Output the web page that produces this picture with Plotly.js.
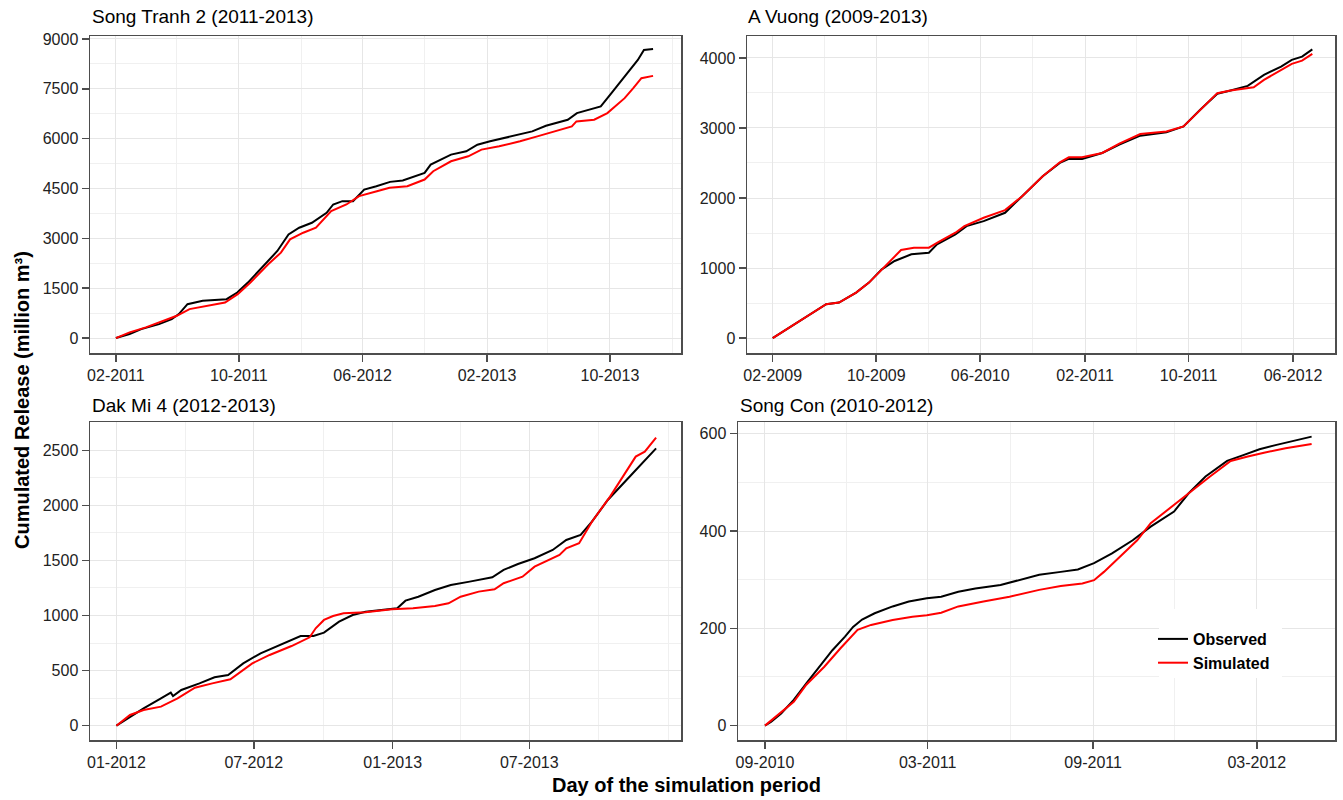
<!DOCTYPE html>
<html>
<head>
<meta charset="utf-8">
<script src="https://cdn.plot.ly/plotly-3.0.1.min.js"></script>
<style>html,body{margin:0;padding:0;background:#fff;}#chart{width:1343px;height:800px;}</style>
</head>
<body>
<div id="chart"></div>
<script>
// ---------- Panel titles ----------
const panelTitles = ["Song Tranh 2 (2011-2013)", "A Vuong (2009-2013)", "Dak Mi 4 (2012-2013)", "Song Con (2010-2012)"];
const seriesNames = ["Observed", "Simulated"];

// ---------- Tick positions (labelled) ----------
const stTicks = ["2011-02-01","2011-10-01","2012-06-01","2013-02-01","2013-10-01"];
const avTicks = ["2009-02-01","2009-10-01","2010-06-01","2011-02-01","2011-10-01","2012-06-01"];
const dmTicks = ["2012-01-01","2012-07-01","2013-01-01","2013-07-01"];
const scTicks = ["2010-09-01","2011-03-01","2011-09-01","2012-03-01"];

// ---------- Song Tranh 2 ----------
const stObsDates = ["2011-02-01","2011-02-28","2011-03-23","2011-04-27","2011-05-22","2011-06-05","2011-06-22","2011-07-22","2011-09-07","2011-09-28","2011-10-19","2011-11-19","2011-12-16","2012-01-07","2012-01-28","2012-02-22","2012-03-22","2012-04-04","2012-04-22","2012-05-13","2012-06-04","2012-06-28","2012-07-25","2012-08-19","2012-10-01","2012-10-13","2012-11-22","2012-12-22","2013-01-13","2013-02-07","2013-03-19","2013-05-01","2013-05-28","2013-07-10","2013-07-28","2013-09-04","2013-09-13","2013-10-04","2013-10-28","2013-11-25","2013-12-07","2013-12-25"];
const stObs = [0,120,270,420,570,720,1020,1120,1170,1370,1670,2170,2620,3120,3320,3470,3770,4020,4120,4120,4470,4570,4700,4740,4970,5220,5520,5620,5820,5920,6070,6220,6390,6570,6770,6920,6970,7370,7820,8370,8670,8700];
const stSimDates = ["2011-02-01","2011-02-28","2011-04-01","2011-05-05","2011-06-01","2011-06-26","2011-07-30","2011-09-04","2011-09-29","2011-10-24","2011-11-28","2011-12-23","2012-01-10","2012-02-05","2012-03-01","2012-03-31","2012-04-30","2012-05-25","2012-06-29","2012-07-24","2012-08-28","2012-10-01","2012-10-18","2012-11-22","2012-12-26","2013-01-21","2013-02-25","2013-04-07","2013-05-11","2013-06-23","2013-07-18","2013-07-27","2013-08-31","2013-09-26","2013-10-30","2013-11-16","2013-12-02","2013-12-25"];
const stSim = [0,170,320,520,670,870,970,1070,1320,1670,2220,2570,2970,3170,3320,3820,4020,4270,4420,4520,4570,4770,5020,5320,5470,5670,5770,5920,6070,6270,6370,6520,6570,6770,7220,7520,7820,7890];

// ---------- A Vuong ----------
const avObsDates = ["2009-02-01","2009-02-28","2009-03-28","2009-05-07","2009-06-06","2009-07-06","2009-08-15","2009-09-14","2009-10-14","2009-11-13","2009-12-22","2010-02-01","2010-02-20","2010-04-04","2010-04-30","2010-06-09","2010-07-29","2010-09-07","2010-10-25","2010-12-04","2010-12-25","2011-01-25","2011-03-13","2011-04-22","2011-06-10","2011-08-10","2011-09-19","2011-10-28","2011-12-07","2012-01-07","2012-02-16","2012-03-25","2012-05-04","2012-05-29","2012-06-22","2012-07-16"];
const avObs = [0,104,223,365,484,508,650,792,982,1101,1196,1219,1338,1480,1599,1670,1789,2026,2311,2501,2558,2558,2643,2762,2890,2937,3023,3260,3488,3535,3601,3758,3877,3972,4019,4123];
const avSimDates = ["2009-02-01","2009-02-28","2009-03-28","2009-05-07","2009-06-06","2009-07-06","2009-08-15","2009-09-14","2009-10-14","2009-11-28","2009-12-28","2010-02-01","2010-02-25","2010-04-04","2010-04-25","2010-06-09","2010-07-29","2010-09-07","2010-10-25","2010-12-04","2010-12-25","2011-01-25","2011-03-13","2011-04-22","2011-06-10","2011-08-10","2011-09-19","2011-10-28","2011-12-07","2012-01-07","2012-03-01","2012-03-25","2012-05-04","2012-05-29","2012-06-22","2012-07-16"];
const avSim = [0,104,223,365,484,508,650,792,982,1257,1290,1290,1376,1504,1599,1718,1827,2026,2311,2510,2581,2581,2643,2776,2913,2951,3023,3260,3497,3535,3582,3687,3820,3915,3962,4057];

// ---------- Dak Mi 4 ----------
const dmObsDates = ["2012-01-01","2012-01-19","2012-02-06","2012-02-29","2012-03-13","2012-03-16","2012-03-27","2012-04-20","2012-05-10","2012-05-28","2012-06-17","2012-07-10","2012-08-09","2012-09-01","2012-09-18","2012-10-02","2012-10-22","2012-11-09","2012-11-26","2012-12-31","2013-01-07","2013-01-18","2013-02-04","2013-02-26","2013-03-19","2013-04-13","2013-05-13","2013-05-28","2013-06-16","2013-07-08","2013-08-01","2013-08-19","2013-09-07","2013-09-22","2013-10-13","2013-11-13","2013-12-16"];
const dmObs = [0,82,157,248,300,269,324,384,439,460,566,657,748,814,814,845,944,1005,1035,1066,1066,1135,1171,1232,1277,1308,1347,1414,1468,1520,1595,1686,1731,1852,2049,2276,2518];
const dmSimDates = ["2012-01-01","2012-01-19","2012-02-06","2012-02-29","2012-03-22","2012-04-14","2012-05-07","2012-05-31","2012-06-29","2012-07-22","2012-08-20","2012-09-13","2012-09-21","2012-10-02","2012-10-14","2012-10-28","2012-11-26","2012-12-31","2013-01-28","2013-02-26","2013-03-16","2013-04-01","2013-04-25","2013-05-16","2013-05-28","2013-06-22","2013-07-08","2013-08-10","2013-08-19","2013-09-05","2013-09-22","2013-10-16","2013-11-19","2013-12-01","2013-12-16"];
const dmSim = [0,97,142,173,248,345,384,421,566,642,723,802,884,960,996,1020,1029,1056,1066,1087,1111,1171,1217,1238,1293,1353,1444,1550,1610,1656,1852,2080,2443,2488,2615];

// ---------- Song Con ----------
const scObsDates = ["2010-09-01","2010-09-08","2010-09-19","2010-10-03","2010-10-17","2010-11-01","2010-11-15","2010-11-29","2010-12-08","2010-12-18","2011-01-01","2011-01-21","2011-02-08","2011-02-28","2011-03-16","2011-04-04","2011-04-23","2011-05-21","2011-06-10","2011-07-03","2011-07-27","2011-08-15","2011-09-02","2011-09-22","2011-10-15","2011-11-04","2011-11-30","2011-12-16","2012-01-04","2012-01-28","2012-02-15","2012-03-04","2012-03-23","2012-04-12","2012-05-01"];
const scObs = [0,8,25,53,87,121,155,183,203,218,231,245,255,262,265,275,282,289,299,310,316,321,334,354,381,409,440,477,512,544,556,568,577,586,594];
const scSimDates = ["2010-09-01","2010-09-19","2010-10-03","2010-10-17","2010-11-06","2010-11-24","2010-12-13","2010-12-28","2011-01-21","2011-02-12","2011-02-28","2011-03-16","2011-04-04","2011-05-02","2011-05-31","2011-07-03","2011-07-27","2011-08-20","2011-09-02","2011-09-13","2011-10-01","2011-10-20","2011-11-04","2011-11-30","2011-12-16","2012-01-09","2012-02-01","2012-02-20","2012-03-09","2012-04-02","2012-05-01"];
const scSim = [0,27,49,84,121,159,197,207,217,224,227,232,245,255,265,279,287,292,299,316,347,381,416,453,477,512,544,553,561,570,579];

const obsColor = "#000000", simColor = "#ff0000";
const FONT = "Liberation Sans, Arial, sans-serif";

const panels = [
  {xo:stObsDates, yo:stObs, xs:stSimDates, ys:stSim},
  {xo:avObsDates, yo:avObs, xs:avSimDates, ys:avSim},
  {xo:dmObsDates, yo:dmObs, xs:dmSimDates, ys:dmSim},
  {xo:scObsDates, yo:scObs, xs:scSimDates, ys:scSim}
];

const traces = [];
panels.forEach((p, i) => {
  const ax = i === 0 ? "" : String(i + 1);
  traces.push({type:"scatter", mode:"lines", x:p.xo, y:p.yo, name:seriesNames[0],
    showlegend:i === 0, line:{color:obsColor, width:2}, xaxis:"x"+ax, yaxis:"y"+ax});
  traces.push({type:"scatter", mode:"lines", x:p.xs, y:p.ys, name:seriesNames[1],
    showlegend:i === 0, line:{color:simColor, width:2}, xaxis:"x"+ax, yaxis:"y"+ax});
});

const W = 1343, H = 800;
const px = v => v / W, py = v => 1 - v / H;

function xax(domain, range, tickvals, minorTick0, minorDtick, anchor) {
  return {domain:domain, anchor:anchor, type:"date", range:range, tickmode:"array", tickvals:tickvals, tickformat:"%m-%Y",
    showgrid:true, gridcolor:"#e6e6e6", gridwidth:1, zeroline:false,
    showline:true, mirror:true, linecolor:"#4d4d4d", linewidth:1.5,
    ticks:"outside", ticklen:7, tickwidth:1.5, tickcolor:"#4d4d4d",
    tickfont:{family:FONT, size:16, color:"#222"},
    minor:{tickmode:"linear", tick0:minorTick0, dtick:minorDtick, showgrid:true, gridcolor:"#f0f0f0", gridwidth:1, ticks:""}};
}
function yax(domain, range, dtick, minorDtick, anchor) {
  return {domain:domain, anchor:anchor, range:range, tick0:0, dtick:dtick,
    showgrid:true, gridcolor:"#e6e6e6", gridwidth:1, zeroline:false,
    showline:true, mirror:true, linecolor:"#4d4d4d", linewidth:1.5,
    ticks:"outside", ticklen:7, tickwidth:1.5, tickcolor:"#4d4d4d",
    tickfont:{family:FONT, size:16, color:"#222"},
    minor:{tick0:0, dtick:minorDtick, showgrid:true, gridcolor:"#f0f0f0", gridwidth:1, ticks:""}};
}

const dTopY = [py(353), py(36)];
const dBotY = [py(740), py(422)];
const dLeftX = [px(90), px(681)];

const layout = {
  width:W, height:H,
  margin:{l:0, r:0, t:0, b:0},
  paper_bgcolor:"#ffffff", plot_bgcolor:"#ffffff",
  font:{family:FONT, color:"#000"},
  showlegend:true,
  legend:{x:px(1153), y:py(622), xanchor:"left", yanchor:"top", bgcolor:"rgba(0,0,0,0)",
    font:{family:FONT, size:16, color:"#000", weight:"bold"}, borderwidth:0, tracegroupgap:0, itemwidth:30},
  shapes:[
    {type:"rect", xref:"paper", yref:"paper", x0:px(1159), x1:px(1282), y0:py(678), y1:py(609),
     fillcolor:"#ffffff", line:{width:0}, layer:"above"}
  ],
  xaxis: xax(dLeftX, ["2010-12-12","2014-02-18"], stTicks, "2011-02-01", "M4", "y"),
  yaxis: yax(dTopY, [-450, 9090], 1500, 750, "x"),
  xaxis2: xax([px(747), px(1335)], ["2008-12-03","2012-09-07"], avTicks, "2009-02-01", "M4", "y2"),
  yaxis2: yax(dTopY, [-213, 4313], 1000, 500, "x2"),
  xaxis3: xax(dLeftX, ["2011-11-27","2014-01-18"], dmTicks, "2012-01-01", "M3", "y3"),
  yaxis3: yax(dBotY, [-130, 2757], 500, 250, "x3"),
  xaxis4: xax([px(738), px(1335)], ["2010-08-02","2012-05-27"], scTicks, "2010-09-01", "M3", "y4"),
  yaxis4: yax(dBotY, [-29.5, 624], 200, 100, "x4"),
  annotations:[
    {text:panelTitles[0], xref:"paper", yref:"paper", x:px(90), y:py(17), xanchor:"left", yanchor:"middle", showarrow:false, font:{family:FONT, size:19, color:"#000"}},
    {text:panelTitles[1], xref:"paper", yref:"paper", x:px(746), y:py(17), xanchor:"left", yanchor:"middle", showarrow:false, font:{family:FONT, size:19, color:"#000"}},
    {text:panelTitles[2], xref:"paper", yref:"paper", x:px(90), y:py(405), xanchor:"left", yanchor:"middle", showarrow:false, font:{family:FONT, size:19, color:"#000"}},
    {text:panelTitles[3], xref:"paper", yref:"paper", x:px(738), y:py(405), xanchor:"left", yanchor:"middle", showarrow:false, font:{family:FONT, size:19, color:"#000"}},
    {text:"Cumulated Release (million m³)", xref:"paper", yref:"paper", x:px(22), y:py(400), xanchor:"center", yanchor:"middle", textangle:-90, showarrow:false, font:{family:FONT, size:20, color:"#000", weight:"bold"}},
    {text:"Day of the simulation period", xref:"paper", yref:"paper", x:px(686), y:py(785), xanchor:"center", yanchor:"middle", showarrow:false, font:{family:FONT, size:20, color:"#000", weight:"bold"}}
  ]
};

Plotly.newPlot("chart", traces, layout, {staticPlot:true, displayModeBar:false});
</script>
</body>
</html>
